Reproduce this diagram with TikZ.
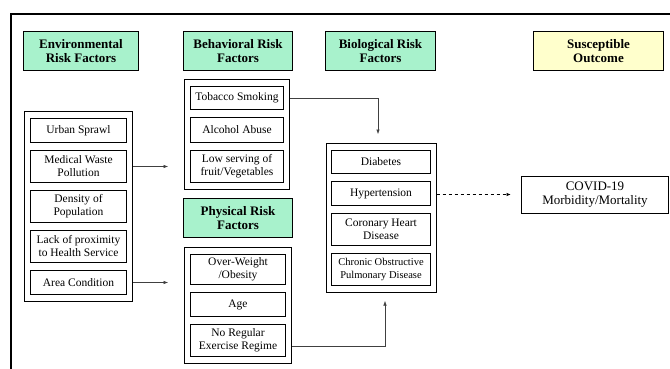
\documentclass[tikz,border=0pt]{standalone}
\usepackage{fontspec}
\setmainfont{Liberation Serif}
\usepackage{tikz}
\usetikzlibrary{fit,calc,positioning,arrows.meta}
\definecolor{hdrgreen}{RGB}{168,242,204}
\definecolor{hdryellow}{RGB}{255,255,204}
\tikzset{
node distance=7pt, % gap between stacked factor boxes
hdr/.style={draw, line width=1pt, fill=hdrgreen, align=center, font=\fontsize{13}{13.5}\selectfont\bfseries, minimum height=39pt, inner sep=1pt},
factor/.style={draw, line width=1.3pt, align=center, font=\fontsize{11.5}{13}\selectfont, inner sep=1pt},
grp/.style={draw, line width=1pt, inner xsep=5.5pt, inner ysep=6.5pt},
link/.style={-{Latex[length=4.5pt,width=3.5pt]}, line width=0.5pt, draw=black!75},
}
\begin{document}
\begin{tikzpicture}[x=1pt,y=1pt]
   \useasboundingbox (0,0) rectangle (670,-369);
   \begin{scope}
   \clip (0,0) rectangle (670,-369);
   \draw[line width=1.4pt] (11,-14) rectangle (700,-400);
   \end{scope}
   % headers
   \node[hdr, minimum width=115pt] (envhdr) at (81,-51) {Environmental\\Risk Factors};
   \node[hdr, minimum width=109pt] (behhdr) at (238,-51) {Behavioral Risk\\Factors};
   \node[hdr, minimum width=110pt] (biohdr) at (380.5,-51) {Biological Risk\\Factors};
   \node[hdr, minimum width=130pt, fill=hdryellow] (sushdr) at (598.5,-51) {Susceptible\\Outcome};
   \node[hdr, minimum width=109pt] (phyhdr) at (238,-218) {Physical Risk\\Factors};
   % environmental
   \node[factor, anchor=north, minimum width=95.7pt, minimum height=23.7pt] (urban) at (78.5,-118) {Urban Sprawl};
   \node[factor, minimum width=95.7pt, minimum height=31.7pt] (waste) [below=of urban] {Medical Waste\\Pollution};
   \node[factor, minimum width=95.7pt, minimum height=31.7pt] (density) [below=of waste] {Density of\\Population};
   \node[factor, minimum width=95.7pt, minimum height=31.7pt] (lack) [below=of density] {Lack of proximity\\to Health Service};
   \node[factor, minimum width=95.7pt, minimum height=23.7pt] (area) [below=of lack] {Area Condition};
   \node[grp, fit=(urban)(area)] (envgrp) {};
   % behavioral
   \node[factor, anchor=north, minimum width=92.7pt, minimum height=22.7pt] (tobacco) at (237,-86) {Tobacco Smoking};
   \node[factor, minimum width=92.7pt, minimum height=24.7pt] (alcohol) [below=of tobacco] {Alcohol Abuse};
   \node[factor, minimum width=92.7pt, minimum height=31.7pt] (fruit) [below=of alcohol] {Low serving of\\fruit/Vegetables};
   \node[grp, fit=(tobacco)(fruit)] (behgrp) {};
   % physical
   \node[factor, anchor=north, minimum width=94.7pt, minimum height=29.7pt] (weight) at (238,-254) {Over-Weight\\/Obesity};
   \node[factor, minimum width=94.7pt, minimum height=23.7pt] (age) [below=of weight] {Age};
   \node[factor, minimum width=94.7pt, minimum height=31.7pt] (exercise) [below=of age] {No Regular\\Exercise Regime};
   \node[grp, fit=(weight)(exercise)] (phygrp) {};
   % biological
   \node[factor, anchor=north, minimum width=98.7pt, minimum height=22.7pt] (diabetes) at (381,-150) {Diabetes};
   \node[factor, minimum width=98.7pt, minimum height=23.7pt] (hyper) [below=of diabetes] {Hypertension};
   \node[factor, minimum width=98.7pt, minimum height=31.7pt] (heart) [below=of hyper] {Coronary Heart\\Disease};
   \node[factor, minimum width=98.7pt, minimum height=31.7pt, font=\fontsize{10.5}{12.5}\selectfont] (copd) [below=of heart] {Chronic Obstructive\\Pulmonary Disease};
   \node[grp, inner xsep=5pt, fit=(diabetes)(copd)] (biogrp) {};
   % outcome
   \node[draw, line width=1pt, align=center, font=\fontsize{13}{14.5}\selectfont, minimum width=147pt, minimum height=37pt] (covid) at (595,-194.5) {COVID-19\\Morbidity/Mortality};
   % connectors
   \draw[link, shorten >=16pt] (envgrp.east |- waste) -- (behgrp.west |- waste);
   \draw[link, shorten >=16pt] (envgrp.east |- area) -- (phygrp.west |- area);
   \draw[link, shorten >=9pt] (behgrp.east |- tobacco) -| ([xshift=-3pt]biogrp.north);
   \draw[link, shorten >=8pt] ([yshift=-6pt]phygrp.east |- exercise) -| ([xshift=4pt]biogrp.south);
   \draw[link, dashed, line width=0.9pt, draw=black, shorten >=10pt] (biogrp.east |- covid.west) -- (covid.west);
\end{tikzpicture}
\end{document}
